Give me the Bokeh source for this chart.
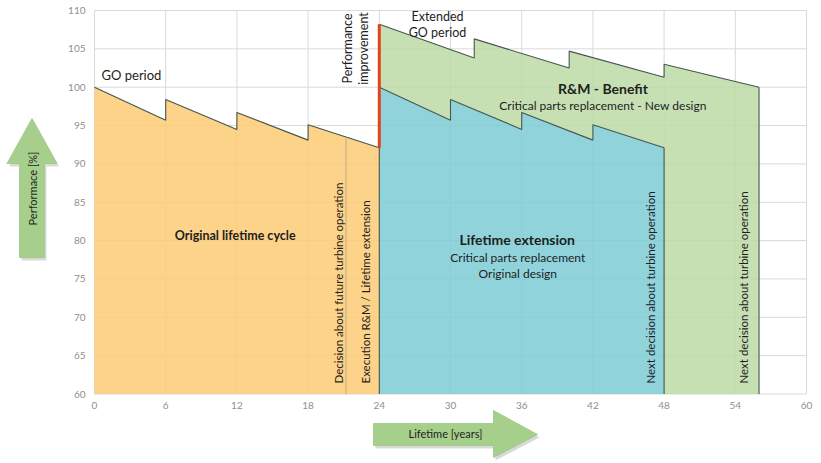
import math
from bokeh.plotting import figure
from bokeh.models import Range1d, FixedTicker
from bokeh.core.properties import value
from bokeh.embed import file_html
from bokeh.resources import INLINE

# ---------------- data ----------------
year_ticks = list(range(0, 61, 6))
perf_ticks = list(range(60, 111, 5))

orig_x = [0, 6, 6, 12, 12, 18, 18, 24]
orig_y = [100.0, 95.7, 98.4, 94.5, 96.7, 93.1, 95.1, 92.1]

ext_x = [24, 30, 30, 36, 36, 42, 42, 48]
ext_y = [100.0, 95.7, 98.4, 94.5, 96.7, 93.1, 95.1, 92.1]

new_x = [24, 32, 32, 40, 40, 48, 48, 56]
new_y = [108.2, 103.8, 106.3, 102.5, 104.7, 101.3, 103.0, 100.0]

base_y = 60
decision_x = 21.2

# ---------------- layout ----------------
W, H = 821, 463
X0, X1, Y0, Y1 = 0, 60, 60, 110
PX_L, PX_R, PY_T, PY_B = 94, 806, 10, 393.5   # where the chart area sits on the page
SX = (PX_R - PX_L) / (X1 - X0)
SY = (PY_B - PY_T) / (Y1 - Y0)

def dx(px):  # page px -> data x
    return X0 + (px - PX_L) / SX

def dy(py):  # page px -> data y
    return Y1 - (py - PY_T) / SY

FONT = value("Lato")
TXT = "#1e1e1e"

p = figure(width=W, height=H, output_backend="svg", toolbar_location=None,
           x_range=Range1d(dx(0), dx(W)), y_range=Range1d(dy(H), dy(0)),
           min_border=0, background_fill_color="white",
           border_fill_color="white", outline_line_color=None)
p.grid.visible = False

p.xaxis.fixed_location = Y0
p.yaxis.fixed_location = X0
p.xaxis.bounds = (X0, X1)
p.yaxis.bounds = (Y0, Y1)
for ax, ticks in ((p.xaxis[0], year_ticks), (p.yaxis[0], perf_ticks)):
    ax.ticker = FixedTicker(ticks=ticks)
    ax.axis_line_color = None
    ax.major_tick_line_color = None
    ax.minor_tick_line_color = None
    ax.major_tick_out = 0
    ax.major_tick_in = 0
    ax.major_label_text_font = "Lato"
    ax.major_label_text_font_size = "10px"
    ax.major_label_text_color = "#8f8f8f"
p.xaxis[0].major_label_standoff = 8
p.yaxis[0].major_label_standoff = 9

# gridlines at the tick positions
GRID = "#d9d9d9"
p.segment(x0=year_ticks, y0=[Y0] * len(year_ticks), x1=year_ticks, y1=[Y1] * len(year_ticks),
          line_color=GRID, line_width=1)
p.segment(x0=[X0] * len(perf_ticks), y0=perf_ticks, x1=[X1] * len(perf_ticks), y1=perf_ticks,
          line_color=GRID, line_width=1)

ALPHA = 0.85
p.patch([orig_x[0]] + orig_x + [orig_x[-1]], [base_y] + orig_y + [base_y],
        fill_color="#FDCB75", fill_alpha=ALPHA, line_color=None)
p.patch([ext_x[0]] + ext_x + [ext_x[-1]], [base_y] + ext_y + [base_y],
        fill_color="#7CCBD5", fill_alpha=ALPHA, line_color=None)
p.patch(new_x + [new_x[-1], ext_x[-1]] + ext_x[::-1],
        new_y + [base_y, base_y] + ext_y[::-1],
        fill_color="#BCDAA7", fill_alpha=ALPHA, line_color=None)

EDGE = "#46564d"
for xs, ys in ((orig_x, orig_y), (ext_x, ext_y), (new_x, new_y)):
    p.line(xs, ys, line_color=EDGE, line_width=1.1)
p.segment(x0=[ext_x[0], ext_x[-1], new_x[-1]], y0=[base_y] * 3,
          x1=[ext_x[0], ext_x[-1], new_x[-1]], y1=[ext_y[0], ext_y[-1], new_y[-1]],
          line_color=EDGE, line_width=1.1)

dec_top = orig_y[6] + (orig_y[7] - orig_y[6]) * (decision_x - orig_x[6]) / (orig_x[7] - orig_x[6])
p.segment(x0=[decision_x], y0=[base_y], x1=[decision_x], y1=[dec_top],
          line_color="#c2ad82", line_width=1)

p.segment(x0=[new_x[0]], y0=[orig_y[-1]], x1=[new_x[0]], y1=[new_y[0]],
          line_color="#E2431E", line_width=3)

def txt(x, y, s, size="12.5px", bold=False, align="center", angle=0.0):
    p.text(x=[x], y=[y], text=[s], text_font=FONT, text_font_size=size,
           text_font_style="bold" if bold else "normal", text_color=TXT,
           text_align=align, text_baseline="middle", angle=angle)

R = math.pi / 2
txt(dx(101), dy(74), "GO period", size="13px", align="left")
txt(dx(346.7), dy(48), "Performance", size="12.5px", angle=R)
txt(dx(363.3), dy(48), "improvement", size="12.5px", angle=R)
txt(dx(437), dy(15.7), "Extended", size="12.5px")
txt(dx(437), dy(32.3), "GO period", size="12.5px")
txt(dx(602.5), dy(87.7), "R&M - Benefit", size="14px", bold=True)
txt(dx(602.5), dy(105), "Critical parts replacement - New design", size="12px")
txt(dx(234.7), dy(235), "Original lifetime cycle", size="12.5px", bold=True)
txt(dx(516.7), dy(239.3), "Lifetime extension", size="14px", bold=True)
txt(dx(517.3), dy(257.3), "Critical parts replacement", size="12px")
txt(dx(517.3), dy(273.3), "Original design", size="12px")

txt(dx(338.3), dy(383), "Decision about future turbine operation", size="11.5px", align="left", angle=R)
txt(dx(365), dy(383), "Execution R&M / Lifetime extension", size="11.5px", align="left", angle=R)
txt(dx(650), dy(383), "Next decision about turbine operation", size="11.5px", align="left", angle=R)
txt(dx(743.3), dy(383), "Next decision about turbine operation", size="11.5px", align="left", angle=R)

# ---------------- decorative arrows (page pixels) ----------------
up_arrow = [(31.5, 118), (56.5, 163), (44, 163), (44, 257), (19, 257), (19, 163), (6.5, 163)]
right_arrow = [(373, 423), (493, 423), (493, 410), (537, 434), (493, 457), (493, 445), (373, 445)]
ARROW = "#a6cf8b"
for pts in (up_arrow, right_arrow):
    p.patch([dx(a + 2) for a, b in pts], [dy(b + 3) for a, b in pts],
            fill_color="#000000", fill_alpha=0.15, line_color=None)
    p.patch([dx(a) for a, b in pts], [dy(b) for a, b in pts],
            fill_color=ARROW, line_color="#9cc683", line_width=0.8)

txt(dx(31.5), dy(188), "Performace [%]", size="11px", angle=R)
txt(dx(445), dy(433), "Lifetime [years]", size="11px")

open("out.html", "w").write(file_html(p, INLINE))
